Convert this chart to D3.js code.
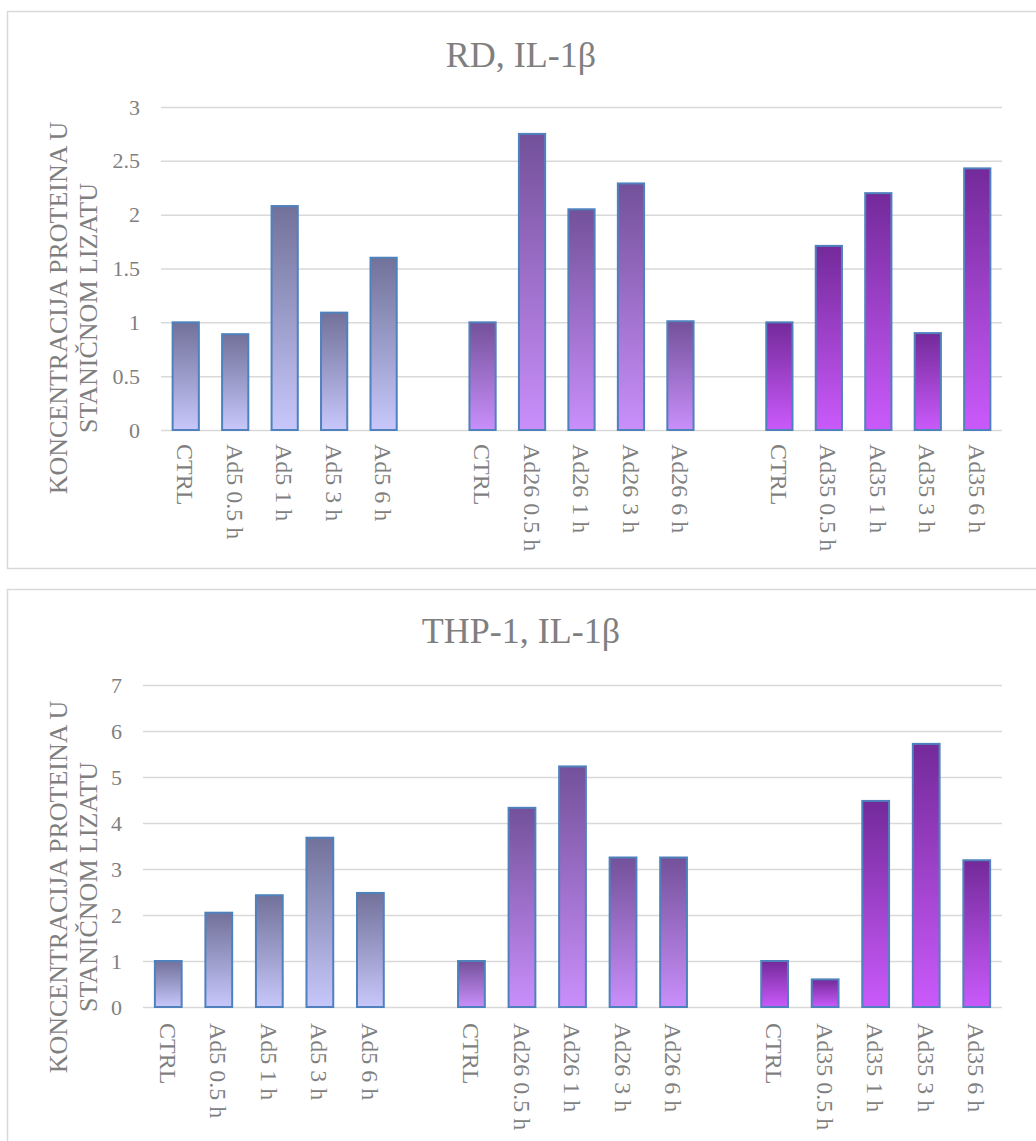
<!DOCTYPE html>
<html>
<head>
<meta charset="utf-8">
<script src="https://cdn.jsdelivr.net/npm/d3@7"></script>
<style>
  body { margin: 0; background: #fff; }
  text { font-family: "Liberation Serif", "Times New Roman", serif; fill: #7f7f7f; }
</style>
</head>
<body>
<script>
const W = 1036;
const H = 1141;

// categories, with an empty slot between the three virus groups
const categories = ["CTRL", "Ad5 0.5 h", "Ad5 1 h", "Ad5 3 h", "Ad5 6 h", "",
    "CTRL", "Ad26 0.5 h", "Ad26 1 h", "Ad26 3 h", "Ad26 6 h", "",
    "CTRL", "Ad35 0.5 h", "Ad35 1 h", "Ad35 3 h", "Ad35 6 h"];
// which colour group each category belongs to (-1 = gap)
const groupOf = [0, 0, 0, 0, 0, -1, 1, 1, 1, 1, 1, -1, 2, 2, 2, 2, 2];

const rdValues = [1.00, 0.89, 2.08, 1.09, 1.60, null,
    1.00, 2.75, 2.05, 2.29, 1.01, null,
    1.00, 1.71, 2.20, 0.90, 2.43];
const thpValues = [1.00, 2.05, 2.43, 3.68, 2.48, null,
    1.00, 4.33, 5.23, 3.25, 3.25, null,
    1.00, 0.60, 4.48, 5.72, 3.19];

const rdTicks = [0, 0.5, 1, 1.5, 2, 2.5, 3];
const thpTicks = [0, 1, 2, 3, 4, 5, 6, 7];

const yTitle = ["KONCENTRACIJA PROTEINA U", "STANIČNOM LIZATU"];

// gradient top / bottom colours per group
const groupColors = [
    ["#71719a", "#c7c7fb"],
    ["#73519a", "#c98ffb"],
    ["#732a9a", "#ca5afb"]
];

const svg = d3.select("body").append("svg").attr("width", W).attr("height", H);
const defs = svg.append("defs");
groupColors.forEach((c, i) => {
    const g = defs.append("linearGradient")
        .attr("id", "grad" + i)
        .attr("x1", 0).attr("y1", 0).attr("x2", 0).attr("y2", 1);
    g.append("stop").attr("offset", "0%").attr("stop-color", c[0]);
    g.append("stop").attr("offset", "100%").attr("stop-color", c[1]);
});

function drawPanel(p) {
    const root = svg.append("g");

    // panel frame (runs off the right side like the original)
    root.append("rect")
        .attr("x", 7.5).attr("y", p.frameTop + 0.5)
        .attr("width", 1100).attr("height", p.frameHeight)
        .attr("fill", "none")
        .attr("stroke", "#d9d9d9")
        .attr("stroke-width", 1.5);

    const x = d3.scaleBand()
        .domain(d3.range(categories.length))
        .range([p.left, p.right])
        .paddingInner(0.47)
        .paddingOuter(0.235);

    const y = d3.scaleLinear()
        .domain([0, d3.max(p.ticks)])
        .range([p.bottom, p.top]);

    // gridlines + tick labels
    const axis = root.append("g")
        .attr("transform", `translate(${p.left},0)`)
        .call(d3.axisLeft(y)
            .tickValues(p.ticks)
            .tickSize(-(p.right - p.left))
            .tickPadding(21)
            .tickFormat(d => d));
    axis.select(".domain").remove();
    axis.selectAll(".tick line")
        .attr("stroke", "#d9d9d9")
        .attr("stroke-width", 1.5);
    axis.selectAll(".tick text")
        .attr("font-family", "Liberation Serif")
        .attr("font-size", "22px")
        .attr("fill", "#7f7f7f");

    // bars
    const idx = d3.range(categories.length).filter(i => p.values[i] != null);
    root.selectAll("rect.bar")
        .data(idx)
        .enter()
        .append("rect")
        .attr("class", "bar")
        .attr("x", i => x(i))
        .attr("width", x.bandwidth())
        .attr("y", i => y(p.values[i]))
        .attr("height", i => y(0) - y(p.values[i]))
        .attr("fill", i => `url(#grad${groupOf[i]})`)
        .attr("stroke", "#4f81bd")
        .attr("stroke-width", 2);

    // category labels, rotated to read downward
    root.selectAll("text.cat")
        .data(idx)
        .enter()
        .append("text")
        .attr("class", "cat")
        .attr("transform", i => `translate(${x(i) + x.bandwidth() / 2},${p.bottom + p.labelGap}) rotate(90)`)
        .attr("dy", "0.35em")
        .attr("font-size", "24px")
        .text(i => categories[i]);

    // title
    root.append("text")
        .attr("x", 521)
        .attr("y", p.titleY)
        .attr("text-anchor", "middle")
        .attr("font-size", "36px")
        .text(p.title);

    // y axis title
    const yt = root.append("text")
        .attr("transform", `translate(67,${p.yTitleCenter}) rotate(-90)`)
        .attr("text-anchor", "middle")
        .attr("font-size", "26px");
    yTitle.forEach((t, i) => {
        yt.append("tspan")
            .attr("x", 0)
            .attr("dy", i === 0 ? 0 : 30)
            .text(t);
    });
}

drawPanel({
    title: "RD, IL-1β",
    values: rdValues,
    ticks: rdTicks,
    frameTop: 11, frameHeight: 557,
    left: 161, right: 1002, top: 107, bottom: 430,
    labelGap: 14, titleY: 67, yTitleCenter: 308
});

drawPanel({
    title: "THP-1, IL-1β",
    values: thpValues,
    ticks: thpTicks,
    frameTop: 589, frameHeight: 600,
    left: 143, right: 1002, top: 685, bottom: 1007,
    labelGap: 16, titleY: 643, yTitleCenter: 887
});
</script>
</body>
</html>
